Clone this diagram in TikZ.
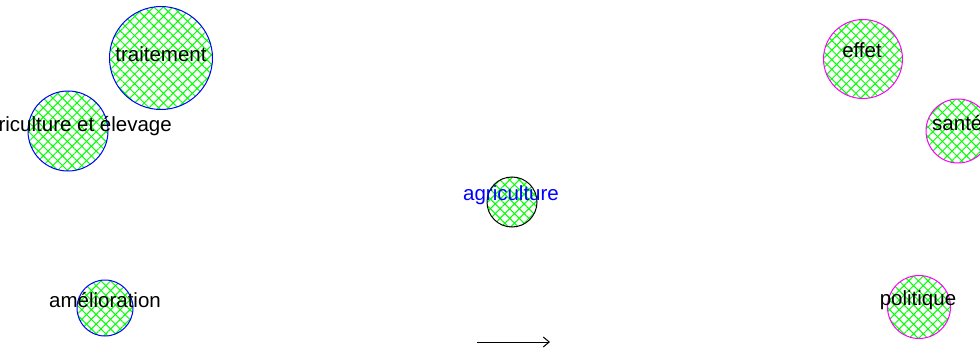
\documentclass[tikz,border=0pt]{standalone}
\usepackage{fontspec}
\setmainfont{Liberation Sans}
\usetikzlibrary{patterns.meta,arrows.meta}
\definecolor{hgreen}{RGB}{0,255,0}
\definecolor{hblue}{RGB}{0,0,255}
\definecolor{hmag}{RGB}{255,0,255}
\tikzset{
  ball/.style={circle, inner sep=0pt, minimum size=#1, line width=1pt,
    preaction={fill=white},
    preaction={pattern={Lines[angle=45,distance=6.8pt,line width=1pt]}, pattern color=hgreen},
    pattern={Lines[angle=-45,distance=6.8pt,line width=1pt]}, pattern color=hgreen},
  lbl/.style={inner sep=0pt, font=\fontsize{20.5}{24}\selectfont, text=black},
}
\begin{document}
\begin{tikzpicture}[x=1pt,y=-1pt]
\useasboundingbox (0,0) rectangle (980,353);
\clip (0,0) rectangle (980,353);
\fill[white] (0,0) rectangle (980,353);
% circles
\node[ball=103pt, draw=hblue] (ctrait) at (161,58) {};
\node[ball=80pt, draw=hblue] (cculture) at (68,131) {};
\node[ball=50pt, draw=black] (cagri) at (512,202) {};
\node[ball=56pt, draw=hblue] (camel) at (105,308) {};
\node[ball=79pt, draw=hmag] (ceffet) at (863,59) {};
\node[ball=64pt, draw=hmag] (csante) at (958,131) {};
\node[ball=63pt, draw=hmag] (cpol) at (919,307) {};
% labels
\node[lbl, anchor=base] (ttrait) at (161,61.5) {traitement};
\node[lbl, anchor=base east] (tculture) at (172,131) {agriculture et élevage};
\node[lbl, anchor=base, text=hblue] (tagri) at (511,200.5) {agriculture};
\node[lbl, anchor=base] (tamel) at (105,307) {amélioration};
\node[lbl, anchor=base] (teffet) at (862,58) {effet};
\node[lbl, anchor=base west] (tsante) at (932,130) {santé};
\node[lbl, anchor=base] (tpol) at (918,305) {politique};
% legend arrow
\coordinate (a1) at (477,342);
\coordinate (a2) at (550,342);
\draw[line width=1pt, -{Straight Barb[length=6pt,width=10pt]}] (a1) -- (a2);
\end{tikzpicture}
\end{document}
